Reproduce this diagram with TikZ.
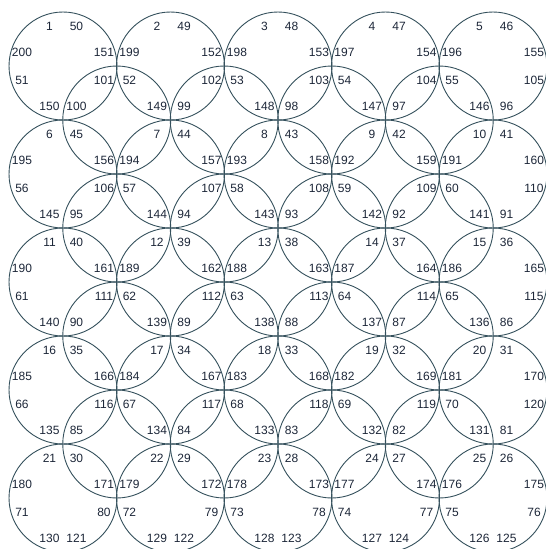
\documentclass[tikz,border=0pt]{standalone}
\usepackage{fontspec}
\setmainfont{Liberation Sans}
\usepackage{xcolor}
\usetikzlibrary{positioning}
\definecolor{ringgray}{HTML}{34505C}
\definecolor{numink}{HTML}{1C2638}

\begin{document}
\begin{tikzpicture}[
    x=1pt, y=-1pt,
    ring/.style={draw=ringgray, line width=0.9pt, circle, minimum size=108pt, inner sep=0pt},
    num/.style={font=\fontsize{12}{14}\selectfont, text=numink, inner sep=0pt},
]
\useasboundingbox (0,0) rectangle (546,549);
\clip (0,0) rectangle (546,549);

% Main rings, 5 x 5
\foreach \r in {1,...,5}{
  \foreach \c in {1,...,5}{
    \pgfmathtruncatemacro{\k}{5*(\r-1)+\c}
    \node[ring] (ring\k) at ({63+107.5*(\c-1)}, {66+108*(\r-1)}) {};
  }
}

% Offset rings, 4 x 4
\foreach \r in {1,...,4}{
  \foreach \c in {1,...,4}{
    \node[ring] (mid\r\c) at ({116.75+107.5*(\c-1)}, {120+108*(\r-1)}) {};
  }
}

% Numbers, eight per main ring
\foreach \k in {1,...,25}{
  \pgfmathtruncatemacro{\lblTR}{51-\k}
  \pgfmathtruncatemacro{\lblLU}{201-\k}
  \pgfmathtruncatemacro{\lblLL}{50+\k}
  \pgfmathtruncatemacro{\lblRU}{150+\k}
  \pgfmathtruncatemacro{\lblRL}{\k>20 ? 101-\k : 100+\k}
  \pgfmathtruncatemacro{\lblBL}{151-\k}
  \pgfmathtruncatemacro{\lblBR}{\k>20 ? 100+\k : 101-\k}
  \node[num] (tl\k) at ([shift={(-13.5,-40)}]ring\k) {\k};
  \node[num] (tr\k) at ([shift={(13.5,-40)}]ring\k) {\lblTR};
  \node[num] (lu\k) at ([shift={(-41,-14)}]ring\k) {\lblLU};
  \node[num] (ll\k) at ([shift={(-41,14)}]ring\k) {\lblLL};
  \node[num] (ru\k) at ([shift={(41,-14)}]ring\k) {\lblRU};
  \node[num] (rl\k) at ([shift={(41,14)}]ring\k) {\lblRL};
  \node[num] (bl\k) at ([shift={(-13.5,40)}]ring\k) {\lblBL};
  \node[num] (br\k) at ([shift={(13.5,40)}]ring\k) {\lblBR};
}
\end{tikzpicture}
\end{document}
